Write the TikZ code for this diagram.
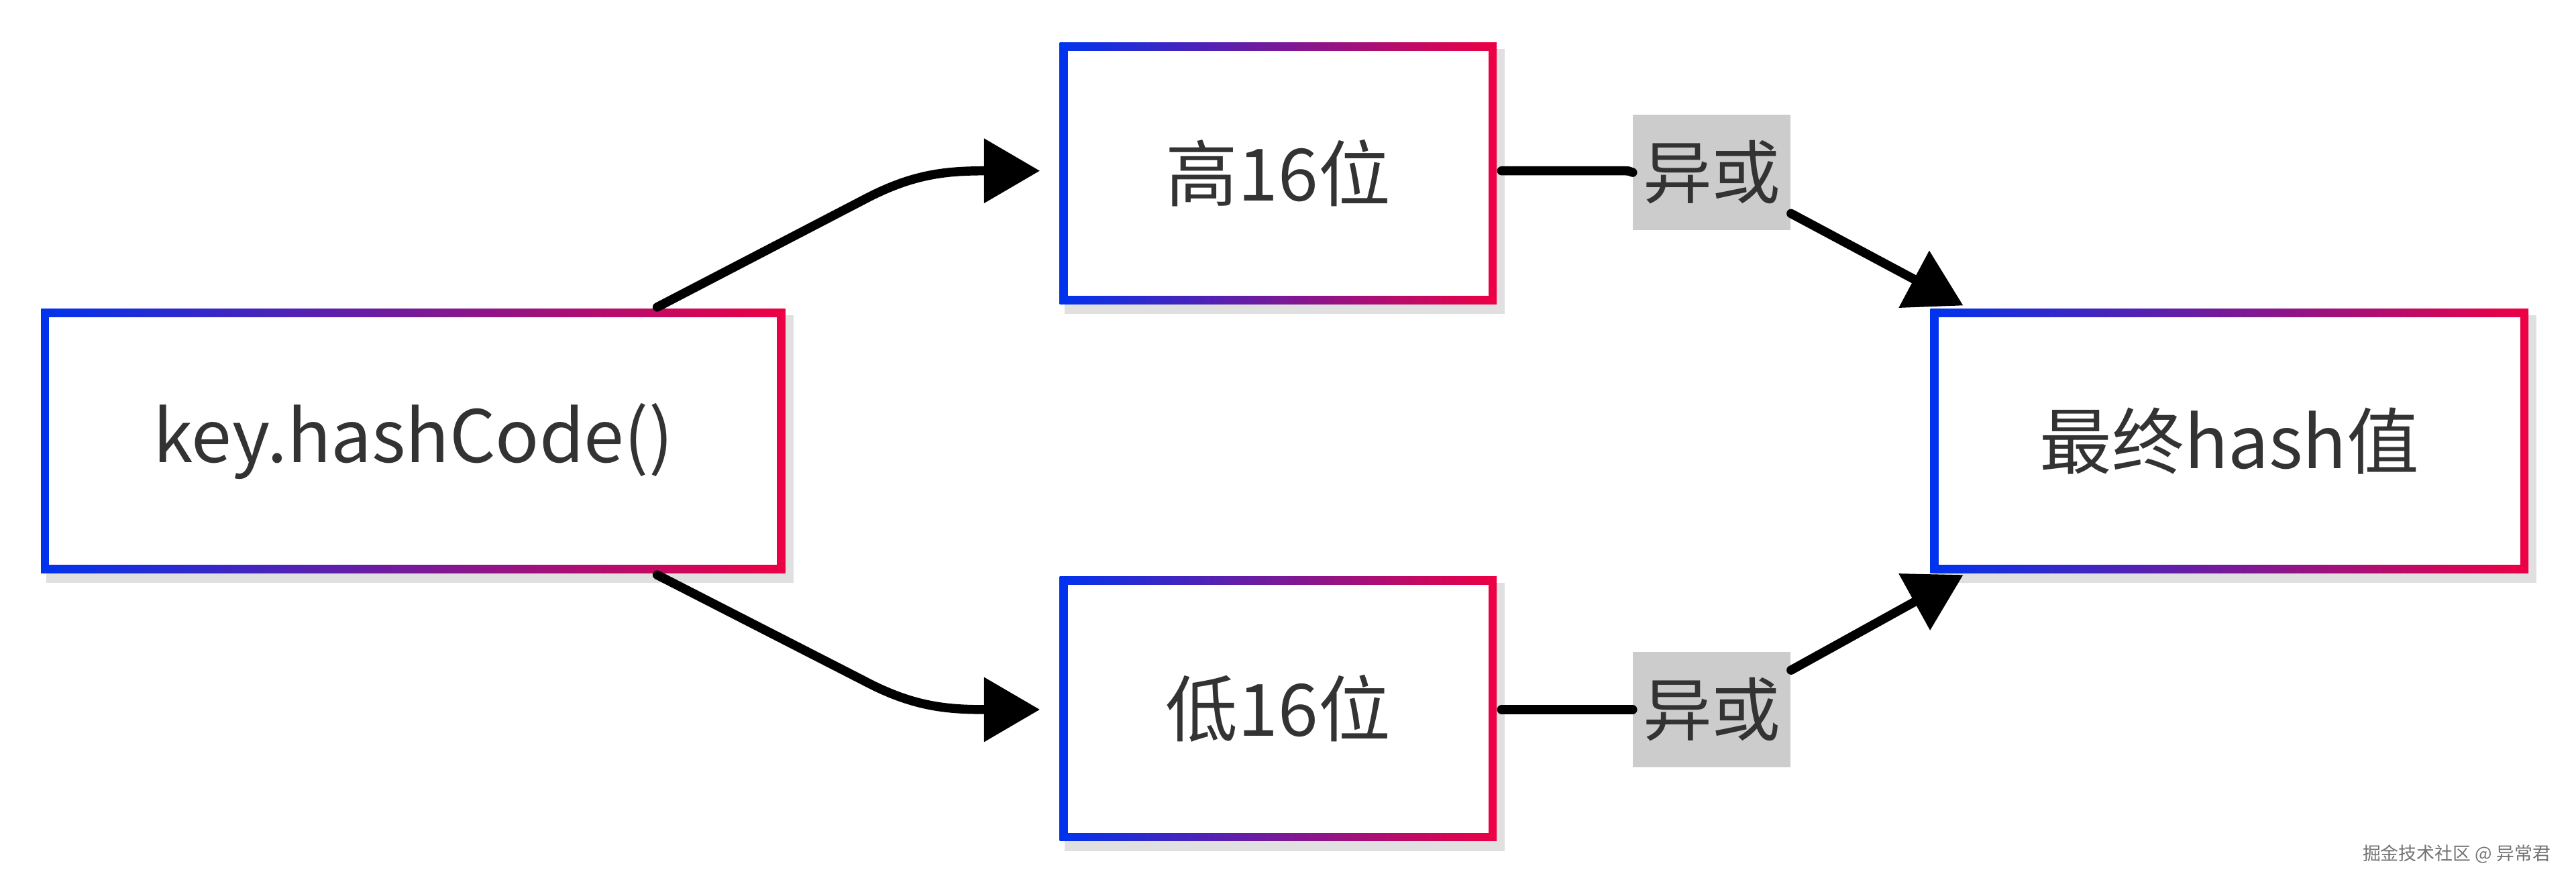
\documentclass[tikz,border=0pt]{standalone}
\usepackage{fontspec}
\setmainfont{Liberation Sans}
\newfontfamily\cjk{Noto Sans CJK SC}
\usetikzlibrary{arrows.meta}
\definecolor{gb}{HTML}{0033EE}
\definecolor{gr}{HTML}{EE0044}
\definecolor{tx}{HTML}{333333}
\tikzset{
  lbl/.style={fill=black!20, inner sep=1pt, text=tx, font=\cjk\fontsize{42}{42}\selectfont},
  conn/.style={line width=5.5pt, line cap=round, -{Triangle[length=34pt,width=38pt]}},
  plain/.style={line width=5.5pt, line cap=round},
  txt/.style={text=tx, font=\cjk\fontsize{44}{44}\selectfont}
}
\newcommand{\gradbox}[6]{%
  \fill[black!12] (#2+3,#3-4) rectangle (#4+5,#5-6);
  \shade[left color=gb, right color=gr] (#2,#3) rectangle (#4,#5);
  \fill[white] (#2+5,#3-5) rectangle (#4-5,#5+5);
  \node[txt] (#1) at ({(#2+#4)/2},{(#3+#5)/2}) {#6};
}
\begin{document}
\begin{tikzpicture}[x=1pt,y=1pt]
\useasboundingbox (0,0) rectangle (1568,-539.4);
\gradbox{k}{25}{-188}{478}{-349}{key.hashCode()}
\gradbox{h}{645}{-26}{911}{-185}{高16位}
\gradbox{l}{645}{-351}{911}{-512}{低16位}
\gradbox{f}{1175}{-188}{1539}{-349}{最终hash值}
\node[lbl, minimum width=96pt, minimum height=70pt] (x1) at (1042,-105) {异或};
\node[lbl, minimum width=96pt, minimum height=70pt] (x2) at (1042,-432) {异或};
\coordinate (k1) at (400,-187);
\coordinate (k2) at (400,-350);
\coordinate (h1) at (633,-104);
\coordinate (l1) at (633,-432);
\coordinate (he) at (914,-104);
\coordinate (le) at (914,-432);
\coordinate (f1) at (1195,-186);
\coordinate (f2) at (1195,-350);
\draw[conn] (k1) -- (525,-122) .. controls (555,-106) and (575,-104) .. (h1);
\draw[conn] (k2) -- (525,-414) .. controls (555,-430) and (575,-432) .. (l1);
\draw[plain] (he) -- (985,-104) .. controls (992,-104) .. (x1.west);
\draw[plain] (le) -- (985,-432) .. controls (992,-432) .. (x2.west);
\draw[conn] (x1.east) ++(0,-25) -- (f1);
\draw[conn] (x2.east) ++(0,24) -- (f2);
\node[text=black!55, font=\cjk\fontsize{11}{11}\selectfont, anchor=east] (wm) at (1556,-520) {掘金技术社区 @ 异常君};
\end{tikzpicture}
\end{document}
